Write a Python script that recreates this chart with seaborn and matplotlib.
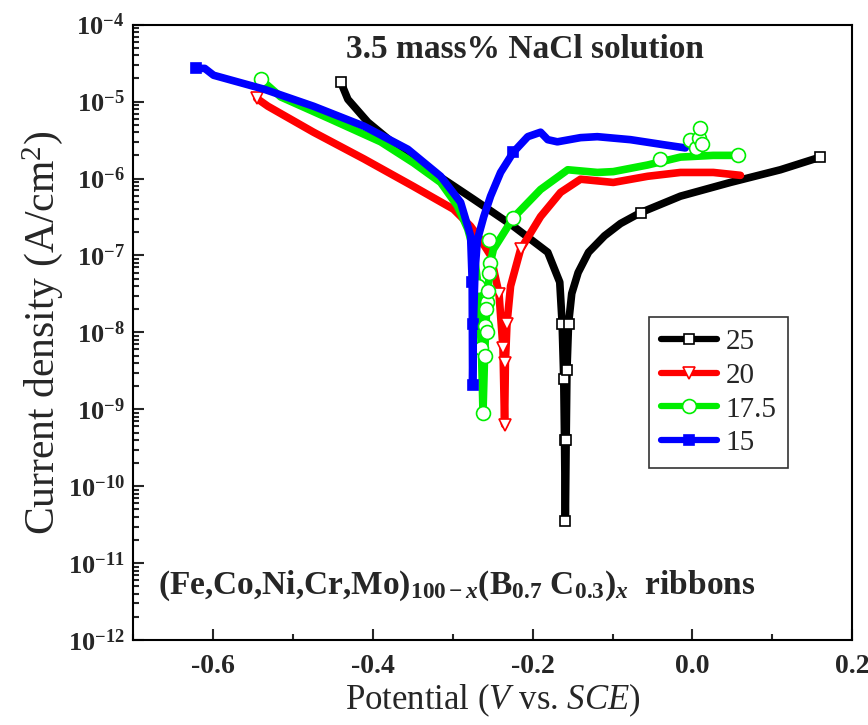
import numpy as np
import pandas as pd
import seaborn as sns
import matplotlib.pyplot as plt
from matplotlib.lines import Line2D
from matplotlib.ticker import LogLocator, MultipleLocator, NullFormatter, FixedLocator

# potentiodynamic polarization curves
# x = potential (V vs SCE), i = current density (A/cm2)
x_25 = [-0.44, -0.431, -0.406, -0.369, -0.324, -0.274, -0.224, -0.181, -0.166, -0.163,
        -0.161, -0.160, -0.159, -0.158, -0.157, -0.155, -0.151, -0.143, -0.13, -0.11,
        -0.09, -0.065, -0.015, 0.0475, 0.11, 0.16]
i_25 = [1.8e-5, 1.07e-5, 5.4e-6, 2.6e-6, 1.2e-6, 5.4e-7, 2.4e-7, 1.1e-7, 4.5e-8, 1.3e-8,
        2.5e-9, 4.0e-10, 3.5e-11, 4.0e-10, 3.2e-9, 1.3e-8, 3.2e-8, 6.0e-8, 1.1e-7, 1.8e-7,
        2.6e-7, 3.6e-7, 5.9e-7, 8.9e-7, 1.3e-6, 1.9e-6]

x_20 = [-0.545, -0.531, -0.474, -0.411, -0.349, -0.299, -0.2775, -0.265, -0.2525, -0.242,
        -0.237, -0.235, -0.234, -0.232, -0.2275, -0.215, -0.19, -0.165, -0.14, -0.099,
        -0.056, -0.015, 0.026, 0.06]
i_20 = [1.1e-5, 8.7e-6, 4.0e-6, 1.8e-6, 7.9e-7, 4.0e-7, 2.4e-7, 1.6e-7, 1.0e-7, 3.2e-8,
        6.3e-9, 6.3e-10, 4.0e-9, 1.3e-8, 4.0e-8, 1.2e-7, 3.2e-7, 6.6e-7, 9.8e-7, 8.9e-7,
        1.07e-6, 1.2e-6, 1.2e-6, 1.1e-6]

x_175 = [-0.54, -0.515, -0.4525, -0.39, -0.349, -0.315, -0.294, -0.281, -0.274, -0.268,
         -0.264, -0.262, -0.260, -0.257, -0.253, -0.249, -0.224, -0.19, -0.156, -0.119,
         -0.099, -0.056, -0.015, 0.026, 0.0575]
i_175 = [1.95e-5, 1.15e-5, 5.9e-6, 3.0e-6, 1.6e-6, 8.9e-7, 4.4e-7, 2.2e-7, 1.2e-7, 4.0e-8,
         6.3e-9, 9.1e-10, 5.0e-9, 2.5e-8, 7.9e-8, 1.2e-7, 3.1e-7, 7.2e-7, 1.3e-6, 1.2e-6,
         1.23e-6, 1.5e-6, 1.9e-6, 2.0e-6, 2.0e-6]
# scattered points of the 17.5 curve near 0 V and around its dip
x_175_extra = [-0.04, -0.003, 0.005, 0.008, 0.01, 0.012,
               -0.259, -0.258, -0.256, -0.255, -0.257, -0.254]
i_175_extra = [1.8e-6, 3.2e-6, 2.5e-6, 3.4e-6, 4.5e-6, 2.8e-6,
               1.2e-8, 2.0e-8, 3.5e-8, 6.0e-8, 1.0e-8, 1.6e-7]

x_15 = [-0.621, -0.61, -0.599, -0.536, -0.474, -0.411, -0.356, -0.315, -0.29, -0.2775,
        -0.2755, -0.275, -0.274, -0.272, -0.269, -0.261, -0.2525, -0.24, -0.224, -0.206,
        -0.19, -0.181, -0.169, -0.14, -0.119, -0.0775, -0.036, -0.009]
i_15 = [2.7e-5, 2.7e-5, 2.2e-5, 1.45e-5, 8.7e-6, 4.8e-6, 2.4e-6, 1.07e-6, 4.9e-7, 1.8e-7,
        4.5e-8, 2.1e-9, 1.3e-8, 6.3e-8, 1.6e-7, 3.2e-7, 5.9e-7, 1.2e-6, 2.2e-6, 3.5e-6,
        4.0e-6, 3.2e-6, 3.0e-6, 3.4e-6, 3.5e-6, 3.2e-6, 2.75e-6, 2.5e-6]

labels = ["25", "20", "17.5", "15"]
y_decades = [1e-12, 1e-11, 1e-10, 1e-9, 1e-8, 1e-7, 1e-6, 1e-5, 1e-4]
x_ticks = [-0.6, -0.4, -0.2, 0.0, 0.2]

sns.set_style("ticks")
plt.rcParams['font.family'] = ['Liberation Serif', 'DejaVu Serif']
plt.rcParams['axes.unicode_minus'] = False
plt.rcParams['mathtext.fontset'] = 'custom'
plt.rcParams['mathtext.rm'] = 'Liberation Serif'
plt.rcParams['mathtext.it'] = 'Liberation Serif:italic'
plt.rcParams['mathtext.bf'] = 'Liberation Serif:bold'
plt.rcParams['mathtext.bfit'] = 'Liberation Serif:bold:italic'

fig, ax = plt.subplots(figsize=(8.68, 7.25), dpi=100)
fig.subplots_adjust(left=0.153, right=0.982, top=0.966, bottom=0.117)

green = '#00ee00'
styles = [
    (x_25, i_25, 'black', 's', 'white', 'black', 7, [0, 9, 10, 11, 12, 13, 14, 15, 21, 25]),
    (x_20, i_20, 'red', 'v', 'white', 'red', 8, [0, 9, 10, 11, 12, 13, 15]),
    (x_175, i_175, green, 'o', 'white', green, 10, [0, 9, 10, 11, 12, 13, 14, 16, 24]),
    (x_15, i_15, 'blue', 's', 'blue', 'blue', 7, [0, 10, 11, 12, 18]),
]

handles = []
for (xs, ys, c, m, fc, ec, ms, every), lab in zip(styles, labels):
    df = pd.DataFrame({'E': xs, 'i': ys})
    sns.lineplot(data=df, x='E', y='i', sort=False, estimator=None, ax=ax,
                 color=c, lw=5.5, marker=m, markevery=every, ms=ms,
                 mfc=fc, mec=ec, mew=1.2, legend=False)
    handles.append(Line2D([], [], color=c, lw=4.5, marker=m, ms=ms,
                          mfc=fc, mec=ec, mew=1.2))

ax.plot(x_175_extra, i_175_extra, ls='none', marker='o', ms=10,
        mfc='white', mec=green, mew=1.2)

ax.set_yscale('log')
ax.set_xlim(-0.7, 0.2)
ax.set_ylim(1e-12, 1e-4)
ax.xaxis.set_major_locator(FixedLocator(x_ticks))
ax.xaxis.set_minor_locator(MultipleLocator(0.1))
ax.yaxis.set_major_locator(FixedLocator(y_decades))
ax.yaxis.set_minor_locator(LogLocator(base=10, subs=np.arange(2, 10), numticks=20))
ax.yaxis.set_minor_formatter(NullFormatter())
ax.xaxis.set_major_formatter(plt.FuncFormatter(lambda v, p: f"{v:.1f}"))
ax.yaxis.set_major_formatter(plt.FuncFormatter(
    lambda v, p: r"$\mathdefault{10^{%d}}$" % round(np.log10(v))))

ax.tick_params(which='both', direction='in', top=False, right=False, width=1.5)
ax.tick_params(which='major', length=8)
ax.tick_params(which='minor', length=4)
ax.tick_params(axis='x', labelsize=20, pad=10)
ax.tick_params(axis='y', labelsize=19, pad=6)
for lab in ax.get_xticklabels() + ax.get_yticklabels():
    lab.set_fontweight('bold')
for s in ax.spines.values():
    s.set_linewidth(1.5)
    s.set_color('black')

ax.set_xlabel(r"Potential ($V$ vs. $SCE$)", fontsize=25, labelpad=2)
ax.set_ylabel(r"Current density (A/cm$^2$)", fontsize=30, labelpad=2)

ax.text(0.545, 0.96, "3.5 mass% NaCl solution", transform=ax.transAxes,
        ha='center', va='center', fontsize=24, fontweight='bold')
ax.text(0.035, 0.089,
        r"(Fe,Co,Ni,Cr,Mo)$_{\mathbf{100-}\mathbfit{x}}$(B$_{\mathbf{0.7}}$ C$_{\mathbf{0.3}}$)$_{\mathbfit{x}}$  ribbons",
        transform=ax.transAxes, ha='left', va='center', fontsize=24, fontweight='bold')

leg = ax.legend(handles, labels, loc='upper left', bbox_to_anchor=(0.718, 0.525),
                borderaxespad=0, fontsize=21, frameon=True, fancybox=False,
                edgecolor='black', handlelength=1.9, handletextpad=0.3,
                labelspacing=0.25, borderpad=0.4)
leg.get_frame().set_linewidth(1.2)

fig.savefig('out.png', dpi=100)
